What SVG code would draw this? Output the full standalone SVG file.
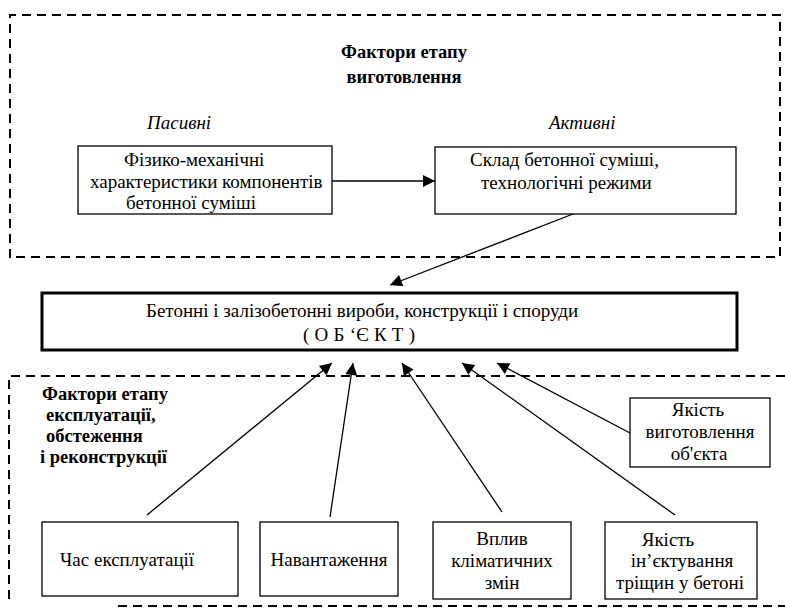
<svg xmlns="http://www.w3.org/2000/svg" width="785" height="614" viewBox="0 0 785 614" font-family="'Liberation Serif', 'Times New Roman', 'DejaVu Serif', serif">
<style>
text{font-family:'Liberation Serif','Times New Roman','DejaVu Serif',serif;fill:#000;font-size:19px}
.b{font-weight:bold;font-size:18.5px}
.i{font-style:italic}
.box{fill:#fff;stroke:#000;stroke-width:1.3}
.thick{fill:#fff;stroke:#000;stroke-width:3}
.dash{fill:none;stroke:#000;stroke-width:2;stroke-dasharray:9 6}
.ln{stroke:#000;stroke-width:1.3;fill:none;marker-end:url(#ah)}
</style>
<defs>
<marker id="ah" viewBox="0 0 10 10" refX="10" refY="5" markerWidth="15" markerHeight="12" markerUnits="userSpaceOnUse" orient="auto">
<path d="M0,0 L10,5 L0,10 z" fill="#000"/>
</marker>
</defs>
<g id="frame-top">
<path class="dash" d="M10,258 L10,15 L780,15 L780,257 L10,257"/>
<text class="b" x="404" y="58" text-anchor="middle">Фактори етапу</text>
<text class="b" x="404" y="83" text-anchor="middle">виготовлення</text>
<text class="i" x="147" y="129">Пасивні</text>
<text class="i" x="549" y="129">Активні</text>
</g>
<g id="frame-bottom">
<path class="dash" d="M785,376 L9,376 L9,600"/>
<path class="dash" d="M118,606 L785,606"/>
<text class="b" x="42" y="400">Фактори етапу</text>
<text class="b" x="46" y="421">експлуатації,</text>
<text class="b" x="46" y="442">обстеження</text>
<text class="b" x="40" y="463">і реконструкції</text>
</g>
<g id="n-passive">
<rect class="box" x="78" y="146" width="254" height="68"/>
<text x="124" y="166">Фізико-механічні</text>
<text x="90" y="188">характеристики компонентів</text>
<text x="126" y="209">бетонної суміші</text>
</g>
<g id="n-active">
<rect class="box" x="435" y="147" width="301" height="67"/>
<text x="470" y="166">Склад бетонної суміші,</text>
<text x="481" y="189">технологічні режими</text>
</g>
<g id="n-object">
<rect class="thick" x="42" y="293" width="695" height="57"/>
<text x="146" y="317">Бетонні і залізобетонні вироби, конструкції і споруди</text>
<text x="303" y="341" textLength="112" lengthAdjust="spacing">( О Б ‘Є К Т )</text>
</g>
<g id="n-time">
<rect class="box" x="42" y="522" width="196" height="74"/>
<text x="60" y="566">Час експлуатації</text>
</g>
<g id="n-load">
<rect class="box" x="260" y="522" width="138" height="74"/>
<text x="329" y="566" text-anchor="middle">Навантаження</text>
</g>
<g id="n-climate">
<rect class="box" x="433" y="522" width="138" height="77"/>
<text x="502" y="545" text-anchor="middle">Вплив</text>
<text x="502" y="567" text-anchor="middle">кліматичних</text>
<text x="502" y="589" text-anchor="middle">змін</text>
</g>
<g id="n-inject">
<rect class="box" x="605" y="522" width="152" height="77"/>
<text x="668" y="546" text-anchor="middle">Якість</text>
<text x="682" y="567" text-anchor="middle">ін’єктування</text>
<text x="680" y="589" text-anchor="middle">тріщин у бетоні</text>
</g>
<g id="n-quality">
<rect class="box" x="630" y="398" width="140" height="69"/>
<text x="698" y="416" text-anchor="middle">Якість</text>
<text x="700" y="438" text-anchor="middle">виготовлення</text>
<text x="699" y="460" text-anchor="middle">об'єкта</text>
</g>
<g id="connectors">
<line class="ln" x1="332" y1="181" x2="435" y2="181"/>
<line class="ln" x1="573" y1="214" x2="390" y2="285"/>
<line class="ln" x1="147" y1="515" x2="332" y2="363"/>
<line class="ln" x1="330" y1="517" x2="353" y2="363"/>
<line class="ln" x1="502" y1="512" x2="402" y2="363"/>
<line class="ln" x1="675" y1="515" x2="462" y2="363"/>
<line class="ln" x1="630" y1="433" x2="497" y2="363"/>
</g>
</svg>
